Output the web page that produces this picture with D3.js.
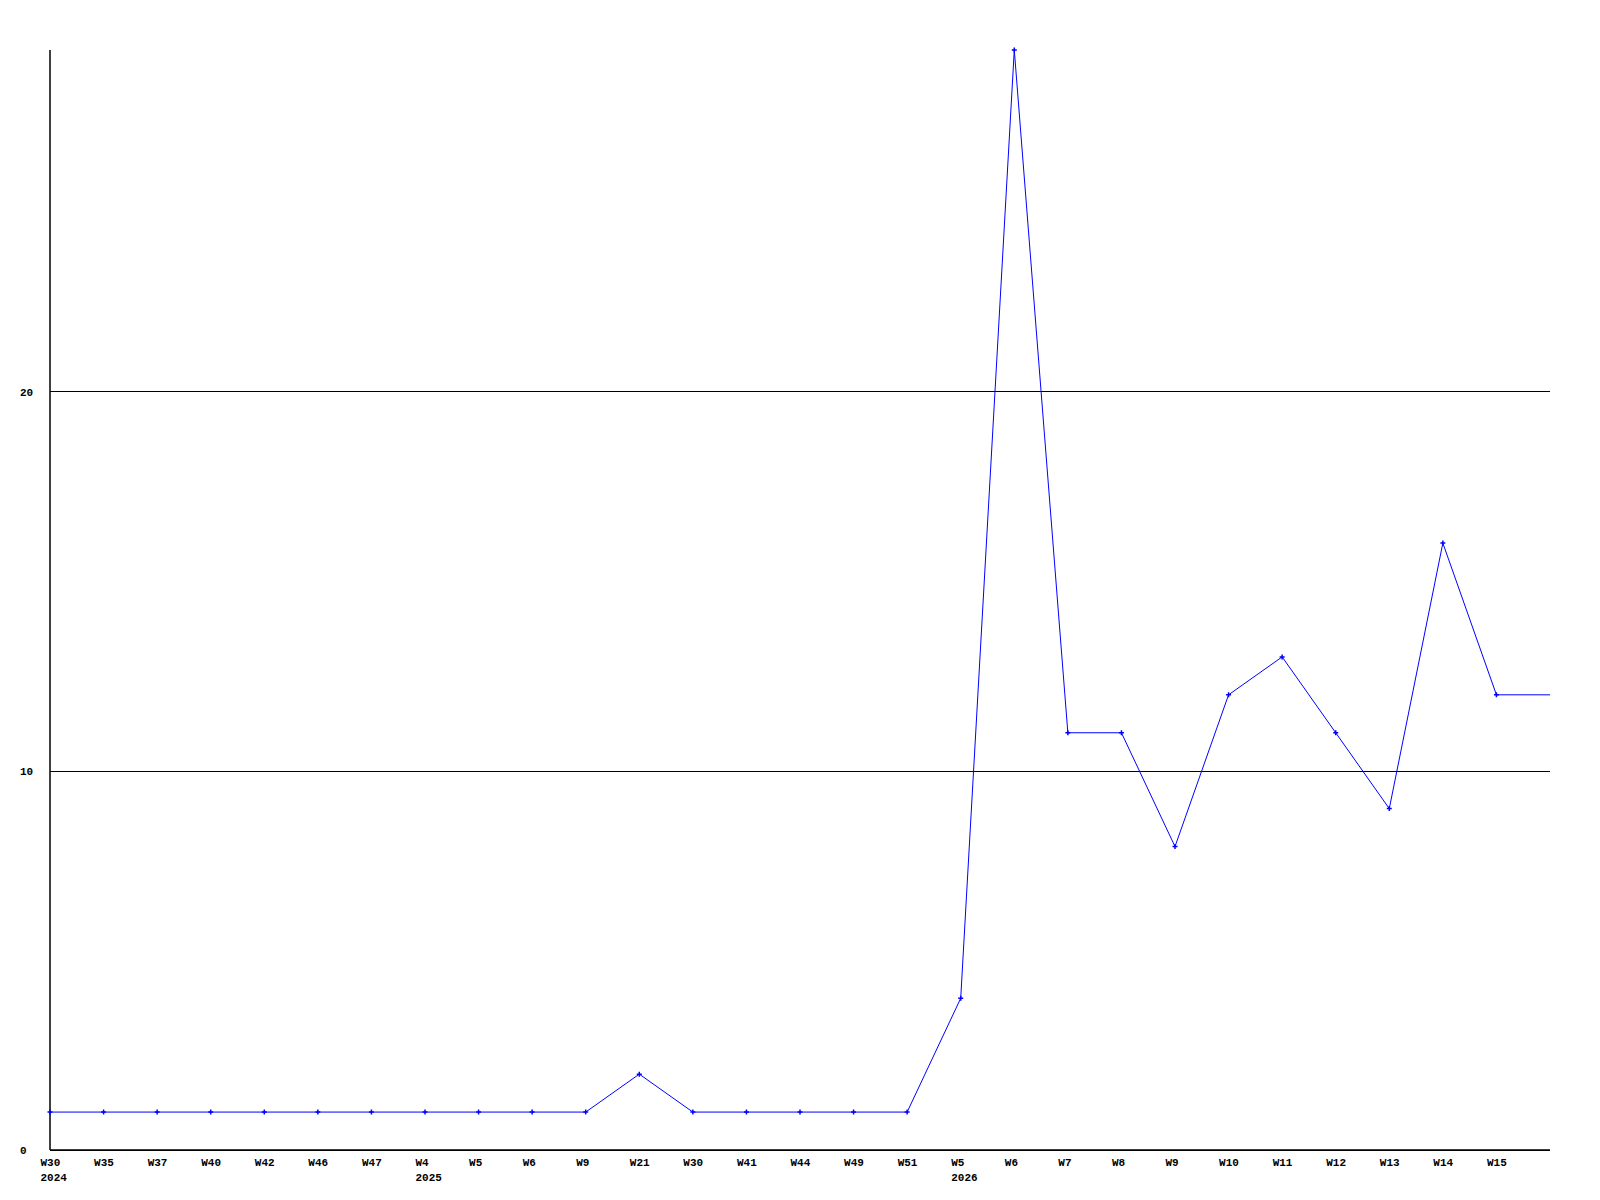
<!DOCTYPE html>
<html>
<head>
<meta charset="utf-8">
<script src="https://cdn.jsdelivr.net/npm/d3@7"></script>
<style>
  body { margin: 0; background: #fff; }
  text { font-family: "Liberation Mono", "DejaVu Sans Mono", monospace; font-weight: bold; font-size: 11px; }
</style>
</head>
<body>
<script>
let width = 1600;
let height = 1200;

let marginLeft = 50;
let marginTop = 50;
let plotRight = 1550;
let plotBottom = 1150;

// week labels, the last point has no label
const weeks = ["W30","W35","W37","W40","W42","W46","W47","W4","W5","W6","W9","W21","W30","W41","W44","W49","W51","W5","W6","W7","W8","W9","W10","W11","W12","W13","W14","W15",""];
const years = ["2024","","","","","","","2025","","","","","","","","","","2026","","","","","","","","","","",""];
const counts = [1,1,1,1,1,1,1,1,1,1,1,2,1,1,1,1,1,4,29,11,11,8,12,13,11,9,16,12,12];
const yTicks = [0, 10, 20];

let idx = d3.range(counts.length);

let svg = d3.select("body")
  .append("svg")
  .attr("width", width)
  .attr("height", height);

let scaleX = d3.scaleLinear()
  .domain([0, counts.length - 1])
  .range([marginLeft, plotRight]);

let scaleY = d3.scaleLinear()
  .domain([0, 29])
  .range([plotBottom, marginTop]);

// horizontal grid lines + y labels
let axisY = d3.axisLeft(scaleY)
  .tickValues(yTicks)
  .tickSize(-(plotRight - marginLeft))
  .tickFormat(d3.format("d"));

let gy = svg.append("g")
  .attr("transform", `translate(${marginLeft}, 0)`)
  .call(axisY);
gy.select(".domain").remove();
gy.selectAll(".tick line").attr("stroke", "#000").attr("shape-rendering", "crispEdges");
gy.selectAll(".tick text")
  .attr("x", -30)
  .attr("dy", "0.35em")
  .attr("text-anchor", "start")
  .attr("fill", "#000")
  .style("font-size", null);

// x labels
let axisX = d3.axisBottom(scaleX)
  .tickValues(idx)
  .tickSize(0)
  .tickFormat(i => weeks[i]);

let gx = svg.append("g")
  .attr("transform", `translate(0, ${plotBottom})`)
  .call(axisX);
gx.select(".domain").remove();
gx.selectAll(".tick text")
  .attr("x", -10)
  .attr("y", 16)
  .attr("dy", null)
  .attr("text-anchor", "start")
  .attr("fill", "#000");

gx.selectAll(".tick")
  .append("text")
  .attr("x", -10)
  .attr("y", 31)
  .attr("text-anchor", "start")
  .attr("fill", "#000")
  .text(i => years[i]);

// axis lines
svg.append("line")
  .attr("x1", marginLeft).attr("x2", plotRight)
  .attr("y1", plotBottom).attr("y2", plotBottom)
  .attr("stroke", "#000").attr("stroke-width", 1.5);
svg.append("line")
  .attr("x1", marginLeft).attr("x2", marginLeft)
  .attr("y1", marginTop).attr("y2", plotBottom)
  .attr("stroke", "#000").attr("stroke-width", 1.5);

let line = d3.line()
  .x(i => scaleX(i))
  .y(i => scaleY(counts[i]));

svg.append("path")
  .datum(idx)
  .attr("d", line)
  .attr("fill", "none")
  .attr("stroke", "#0000ff")
  .attr("stroke-width", 1);

// small cross markers on labelled points
svg.selectAll(".marker")
  .data(idx.filter(i => weeks[i] !== ""))
  .enter()
  .append("path")
  .attr("class", "marker")
  .attr("transform", i => `translate(${scaleX(i)}, ${scaleY(counts[i])})`)
  .attr("d", "M-2.5,0H2.5M0,-2.5V2.5")
  .attr("stroke", "#0000ff")
  .attr("stroke-width", 1.5);
</script>
</body>
</html>
